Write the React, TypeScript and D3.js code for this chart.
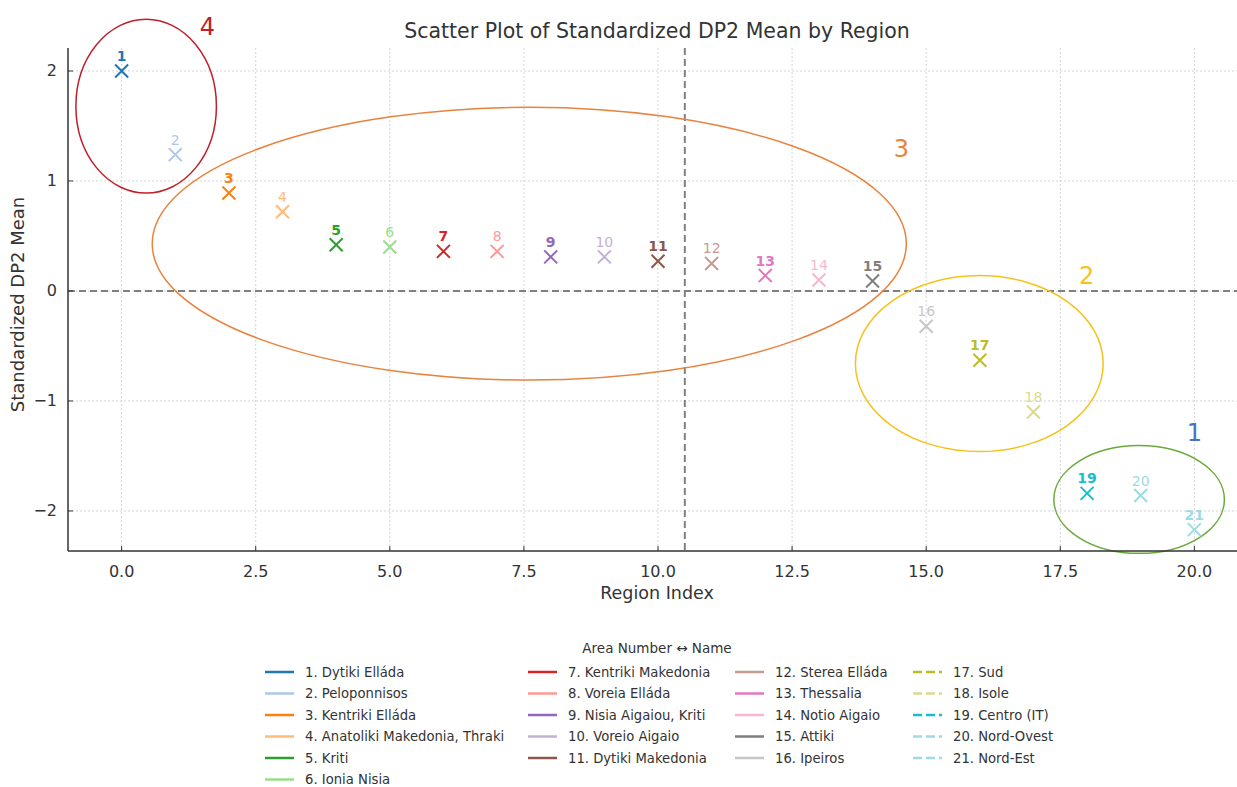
import React from "react";
import * as d3 from "d3";

const regionNames = [
  "Dytiki Elláda", "Peloponnisos", "Kentriki Elláda", "Anatoliki Makedonia, Thraki", "Kriti",
  "Ionia Nisia", "Kentriki Makedonia", "Voreia Elláda", "Nisia Aigaiou, Kriti", "Voreio Aigaio",
  "Dytiki Makedonia", "Sterea Elláda", "Thessalia", "Notio Aigaio", "Attiki", "Ipeiros",
  "Sud", "Isole", "Centro (IT)", "Nord-Ovest", "Nord-Est",
];
const dp2Values = [
  2.0, 1.24, 0.89, 0.72, 0.42, 0.40, 0.36, 0.36, 0.31, 0.31, 0.27, 0.25, 0.14, 0.10, 0.09,
  -0.32, -0.63, -1.10, -1.84, -1.86, -2.17,
];
const pointColors = [
  "#1f77b4", "#aec7e8", "#ff7f0e", "#ffbb78", "#2ca02c", "#98df8a", "#d62728", "#ff9896",
  "#9467bd", "#c5b0d5", "#8c564b", "#c49c94", "#e377c2", "#f7b6d2", "#7f7f7f", "#c7c7c7",
  "#bcbd22", "#dbdb8d", "#17becf", "#9edae5", "#9edae5",
];
const dashedFrom = 17; // areas 17+ are Italian (dashed legend lines)
const xTicks = [0, 2.5, 5, 7.5, 10, 12.5, 15, 17.5, 20];
const yTicks = [2, 1, 0, -1, -2];
const splitX = 10.5;
const splitY = 0;
// cluster ellipses in data units: [cx, cy, rx, ry]
const clusterLabels = ["4", "3", "2", "1"];
const clusterColors = ["#c0202a", "#e8823c", "#f5c21b", "#6aaa3a"];
const clusterLabelColors = ["#c0202a", "#e8823c", "#f5c21b", "#4472c4"];
const clusterEllipses = [
  [0.457, 1.68, 1.31, 0.79],
  [7.6, 0.43, 7.03, 1.24],
  [15.99, -0.66, 2.31, 0.8],
  [18.97, -1.895, 1.59, 0.49],
];
const clusterLabelPos = [
  [1.6, 2.4],
  [14.54, 1.29],
  [17.99, 0.14],
  [20.0, -1.29],
];
const legendColumns = [[0, 6], [6, 11], [11, 16], [16, 21]];

const W = 1237;
const H = 787;
const FONT = "'DejaVu Sans', sans-serif";

export default function App() {
  const x = d3.scaleLinear().domain([-1, 21]).range([68, 1248]);
  const y = d3.scaleLinear().domain([-2.364, 2.209]).range([551, 48]);
  const left = 68, bottom = 551, top = 48;
  const xFmt = d3.format(".1f");
  const yFmt = (v: number) => (v < 0 ? "\u2212" + Math.abs(v) : String(v));

  const legendX = [265, 528, 735, 913];
  const legendY0 = 672;
  const legendDy = 21.5;

  return (
    <svg width={W} height={H} style={{ position: "absolute", left: 0, top: 0, background: "#fff" }} fontFamily={FONT}>
      {/* grid */}
      {xTicks.map((t) => (
        <line key={"gx" + t} x1={x(t)} x2={x(t)} y1={top} y2={bottom} stroke="#d4d4d4" strokeWidth={1} strokeDasharray="2,2" />
      ))}
      {yTicks.map((t) => (
        <line key={"gy" + t} x1={left} x2={W} y1={y(t)} y2={y(t)} stroke="#d4d4d4" strokeWidth={1} strokeDasharray="2,2" />
      ))}
      {/* reference lines */}
      <line x1={x(splitX)} x2={x(splitX)} y1={top} y2={bottom} stroke="#808080" strokeWidth={2} strokeDasharray="7,4" />
      <line x1={left} x2={W} y1={y(splitY)} y2={y(splitY)} stroke="#808080" strokeWidth={2} strokeDasharray="7,4" />
      {/* ellipses */}
      {clusterEllipses.map(([cx, cy, rx, ry], i) => (
        <ellipse key={"e" + i} cx={x(cx)} cy={y(cy)} rx={x(cx + rx) - x(cx)} ry={y(cy - ry) - y(cy)} fill="none" stroke={clusterColors[i]} strokeWidth={1.5} />
      ))}
      {clusterLabelPos.map(([lx, ly], i) => (
        <text key={"cl" + i} x={x(lx)} y={y(ly)} fill={clusterLabelColors[i]} fontSize={24} textAnchor="middle" dominantBaseline="central">
          {clusterLabels[i]}
        </text>
      ))}
      {/* points */}
      {dp2Values.map((v, i) => {
        const px = x(i), py = y(v), s = 6.5;
        return (
          <g key={"p" + i}>
            <path d={`M${px - s},${py - s}L${px + s},${py + s}M${px - s},${py + s}L${px + s},${py - s}`} stroke={pointColors[i]} strokeWidth={2} />
            <text x={px} y={py - 10} fill={pointColors[i]} fontSize={14} fontWeight={i % 2 === 0 ? "bold" : "normal"} textAnchor="middle">
              {i + 1}
            </text>
          </g>
        );
      })}
      {/* spines */}
      <line x1={left} x2={left} y1={top} y2={bottom} stroke="#333" strokeWidth={1.5} />
      <line x1={left} x2={W} y1={bottom} y2={bottom} stroke="#333" strokeWidth={1.5} />
      {xTicks.map((t) => (
        <g key={"xt" + t}>
          <line x1={x(t)} x2={x(t)} y1={bottom} y2={bottom - 5} stroke="#333" strokeWidth={1} />
          <text x={x(t)} y={bottom + 26} fontSize={16} fill="#333" textAnchor="middle">{xFmt(t)}</text>
        </g>
      ))}
      {yTicks.map((t) => (
        <g key={"yt" + t}>
          <line x1={left} x2={left + 5} y1={y(t)} y2={y(t)} stroke="#333" strokeWidth={1} />
          <text x={left - 11} y={y(t)} fontSize={16} fill="#333" textAnchor="end" dominantBaseline="central">{yFmt(t)}</text>
        </g>
      ))}
      {/* titles */}
      <text x={657} y={38} fontSize={20.5} fill="#333" textAnchor="middle">Scatter Plot of Standardized DP2 Mean by Region</text>
      <text x={657} y={599} fontSize={17.5} fill="#333" textAnchor="middle">Region Index</text>
      <text transform={`translate(24,${(top + bottom) / 2 + 5}) rotate(-90)`} fontSize={18} fill="#333" textAnchor="middle">Standardized DP2 Mean</text>
      {/* legend */}
      <text x={657} y={653} fontSize={13.5} fill="#333" textAnchor="middle">Area Number ↔ Name</text>
      {legendColumns.map(([a, b], c) =>
        d3.range(a, b).map((i, r) => {
          const ly = legendY0 + r * legendDy;
          const lx = legendX[c];
          return (
            <g key={"lg" + i}>
              <line x1={lx} x2={lx + 29} y1={ly} y2={ly} stroke={pointColors[i]} strokeWidth={2.5} strokeDasharray={i + 1 >= dashedFrom ? "9,4" : undefined} />
              <text x={lx + 40} y={ly} fontSize={13.2} fill="#333" dominantBaseline="central">{`${i + 1}. ${regionNames[i]}`}</text>
            </g>
          );
        })
      )}
    </svg>
  );
}
